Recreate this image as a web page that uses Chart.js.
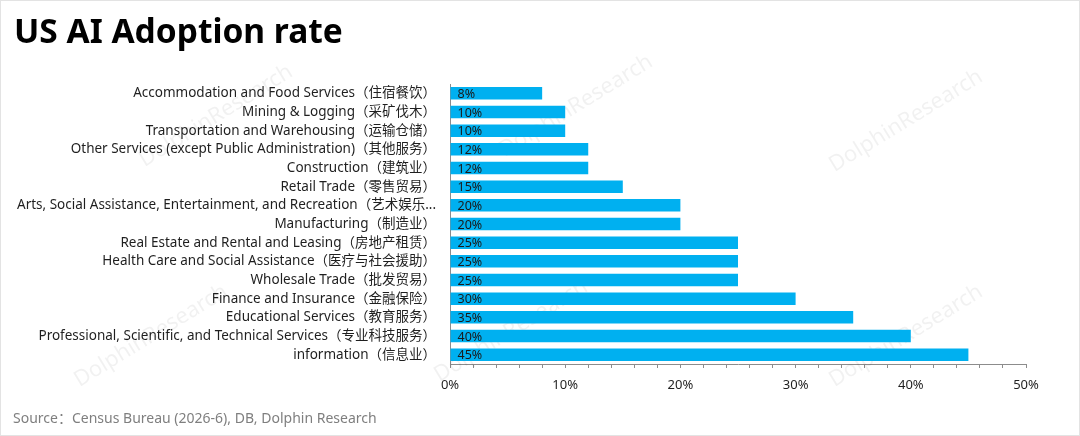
<!DOCTYPE html>
<html>
<head>
<meta charset="utf-8">
<script src="https://cdn.jsdelivr.net/npm/chart.js@4"></script>
<style>
  html, body { margin: 0; padding: 0; background: #fff; }
  #wrap { position: relative; width: 1080px; height: 436px; box-sizing: border-box; border: 1px solid #e3e3e3; overflow: hidden; }
  #title { position: absolute; left: 13px; top: 6px; font: bold 33.5px "Noto Sans", "Open Sans", sans-serif; color: #000; }
  #source { position: absolute; left: 12px; top: 406px; font: 14px "Noto Sans", "Noto Sans CJK SC", sans-serif; color: #7f7f7f; }
  canvas { position: absolute; left: 0; top: 0; }
</style>
</head>
<body>
<div id="wrap">
  <canvas id="chart" width="1080" height="436"></canvas>
  <div id="title">US AI Adoption rate</div>
  <div id="source">Source：Census Bureau (2026-6), DB, Dolphin Research</div>
</div>
<script>
const industries = [
  'Accommodation and Food Services（住宿餐饮）',
  'Mining & Logging（采矿伐木）',
  'Transportation and Warehousing（运输仓储）',
  'Other Services (except Public Administration)（其他服务）',
  'Construction（建筑业）',
  'Retail Trade（零售贸易）',
  'Arts, Social Assistance, Entertainment, and Recreation（艺术娱乐...',
  'Manufacturing（制造业）',
  'Real Estate and Rental and Leasing（房地产租赁）',
  'Health Care and Social Assistance（医疗与社会援助）',
  'Wholesale Trade（批发贸易）',
  'Finance and Insurance（金融保险）',
  'Educational Services（教育服务）',
  'Professional, Scientific, and Technical Services（专业科技服务）',
  'information（信息业）',
]
const adoption = [8, 10, 10, 12, 12, 15, 20, 20, 25, 25, 25, 30, 35, 40, 45]
const xTickLabels = ['0%', '10%', '20%', '30%', '40%', '50%']

const FONT = '"Noto Sans", "Noto Sans CJK SC", sans-serif'

// faint watermark behind the bars
const watermark = {
  id: 'watermark',
  beforeDatasetsDraw(chart) {
    const ctx = chart.ctx
    const spots = [[215, 115], [575, 105], [905, 120], [150, 335], [510, 330], [905, 335]]
    ctx.save()
    ctx.font = '22px ' + FONT
    ctx.fillStyle = 'rgba(0,0,0,0.055)'
    ctx.textAlign = 'center'
    ctx.textBaseline = 'middle'
    spots.forEach(([x, y]) => {
      ctx.save()
      ctx.translate(x, y)
      ctx.rotate(-0.55)
      ctx.fillText('DolphinResearch', 0, 0)
      ctx.restore()
    })
    ctx.restore()
  }
}

// value labels at the start of each bar
const barLabels = {
  id: 'barLabels',
  afterDatasetsDraw(chart) {
    const ctx = chart.ctx
    const meta = chart.getDatasetMeta(0)
    ctx.save()
    ctx.font = '12.5px ' + FONT
    ctx.fillStyle = '#1a1a1a'
    ctx.textAlign = 'left'
    ctx.textBaseline = 'middle'
    meta.data.forEach((bar, i) => {
      ctx.fillText(adoption[i] + '%', bar.base + 7, bar.y + 1)
    })
    ctx.restore()
  }
}

new Chart(document.getElementById('chart'), {
  type: 'bar',
  data: {
    labels: industries,
    datasets: [{
      data: adoption,
      backgroundColor: '#00b0f0',
      borderWidth: 0,
      barPercentage: 0.67,
      categoryPercentage: 1,
    }]
  },
  options: {
    indexAxis: 'y',
    responsive: false,
    animation: false,
    layout: { padding: { top: 83, bottom: 33, left: 0, right: 55 } },
    plugins: {
      legend: { display: false },
      tooltip: { enabled: false },
    },
    scales: {
      y: {
        afterFit(scale) { scale.width = 449 },
        grid: { display: false, drawTicks: false },
        border: { display: true, color: '#8c8c8c', width: 1 },
        ticks: {
          padding: 14,
          color: '#1f1f1f',
          font: { family: FONT, size: 13.5 },
          autoSkip: false,
        }
      },
      x: {
        min: 0,
        max: 50,
        afterFit(scale) { scale.height = 40 },
        grid: { drawOnChartArea: false, drawTicks: true, tickLength: 4, color: '#8c8c8c' },
        border: { display: true, color: '#8c8c8c', width: 1 },
        ticks: {
          stepSize: 2,
          autoSkip: false,
          maxRotation: 0,
          padding: 9,
          color: '#1f1f1f',
          font: { family: FONT, size: 13 },
          callback: v => (v % 10 === 0 ? xTickLabels[v / 10] : ''),
        }
      }
    }
  },
  plugins: [watermark, barLabels]
})
</script>
</body>
</html>
